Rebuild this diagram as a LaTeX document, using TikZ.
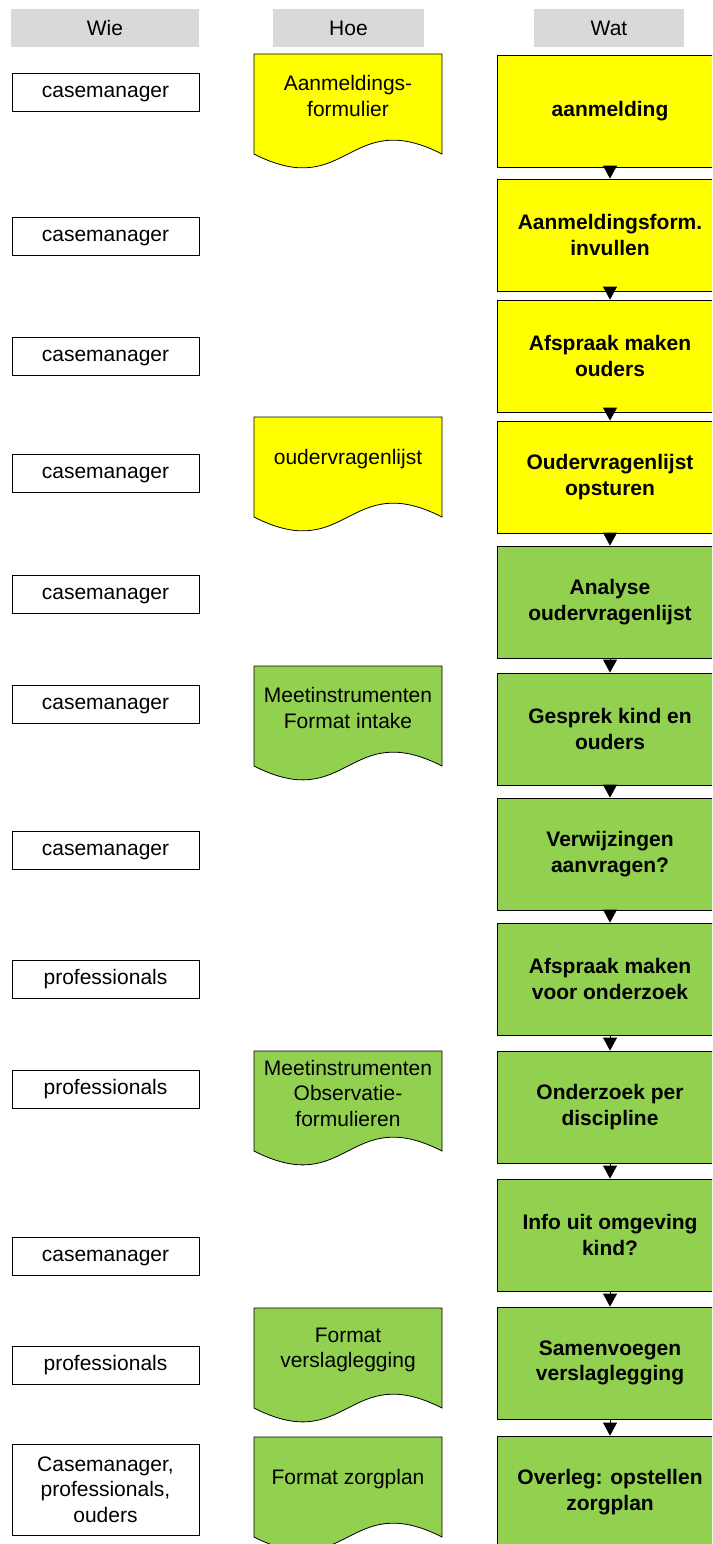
\documentclass[tikz,border=0pt]{standalone}
\usepackage{fontspec}
\setmainfont{Liberation Sans}
\usetikzlibrary{arrows.meta}
\definecolor{geel}{HTML}{FFFF00}
\definecolor{groen}{HTML}{92D050}
\definecolor{kopgrijs}{HTML}{D9D9D9}
\newcommand{\tekst}{\fontsize{21}{25.5}\selectfont}
\tikzstyle{kop} = [fill=kopgrijs, minimum height=38pt, inner sep=0pt, font=\tekst]
\tikzstyle{wie} = [draw, line width=0.8pt, fill=white, minimum width=187pt, minimum height=38pt, inner sep=0pt, align=center, font=\tekst]
\tikzstyle{wiekort} = [wie, text height=15pt, text depth=4.5pt]
\tikzstyle{wat} = [draw, line width=0.8pt, minimum width=226pt, minimum height=112pt, inner sep=0pt, align=center, font=\tekst\bfseries]
\tikzstyle{doc} = [draw, line width=0.8pt]
\tikzstyle{hoe} = [align=center, inner sep=0pt, font=\tekst]
\tikzstyle{stap} = [-{Triangle[width=14pt,length=13pt]}, line width=0.8pt]

\begin{document}
\begin{tikzpicture}[x=1pt, y=-1pt]
    \useasboundingbox (0,0) rectangle (712,1544);
    \clip (0,0) rectangle (712,1544);
    % kolomkoppen
    \node (kwie) [kop, minimum width=188pt] at (105,28) {Wie};
    \node (khoe) [kop, minimum width=151pt] at (348.5,28) {Hoe};
    \node (kwat) [kop, minimum width=150pt] at (609,28) {Wat};
    % wie
    \node (p1) [wiekort] at (105.5,92) {casemanager};
    \node (p2) [wiekort] at (105.5,236) {casemanager};
    \node (p3) [wiekort] at (105.5,356) {casemanager};
    \node (p4) [wiekort] at (105.5,473) {casemanager};
    \node (p5) [wiekort] at (105.5,594) {casemanager};
    \node (p6) [wiekort] at (105.5,704) {casemanager};
    \node (p7) [wiekort] at (105.5,850) {casemanager};
    \node (p8) [wiekort] at (105.5,979) {professionals};
    \node (p9) [wiekort] at (105.5,1089) {professionals};
    \node (p10) [wiekort] at (105.5,1256) {casemanager};
    \node (p11) [wiekort] at (105.5,1365) {professionals};
    \node (p12) [wie, minimum height=91pt] at (105.5,1489.5) {Casemanager,\\professionals,\\ouders};
    % hoe
    \filldraw[doc, fill=geel] (254,54) -- (442,54) -- (442,154) .. controls (348,106) and (348,202) .. (254,154) -- cycle;
    \node (d1) [hoe] at (348,96) {Aanmeldings-\\formulier};
    \filldraw[doc, fill=geel] (254,417) -- (442,417) -- (442,517) .. controls (348,469) and (348,565) .. (254,517) -- cycle;
    \node (d2) [hoe] at (348,459) {oudervragenlijst};
    \filldraw[doc, fill=groen] (254,666) -- (442,666) -- (442,766) .. controls (348,718) and (348,814) .. (254,766) -- cycle;
    \node (d3) [hoe] at (348,708) {Meetinstrumenten\\Format intake};
    \filldraw[doc, fill=groen] (254,1051) -- (442,1051) -- (442,1151) .. controls (348,1103) and (348,1199) .. (254,1151) -- cycle;
    \node (d4) [hoe] at (348,1093) {Meetinstrumenten\\Observatie-\\formulieren};
    \filldraw[doc, fill=groen] (254,1308) -- (442,1308) -- (442,1408) .. controls (348,1360) and (348,1456) .. (254,1408) -- cycle;
    \node (d5) [hoe] at (348,1350) {Format\\verslaglegging};
    \filldraw[doc, fill=groen] (254,1437) -- (442,1437) -- (442,1537) .. controls (348,1489) and (348,1585) .. (254,1537) -- cycle;
    \node (d6) [hoe] at (348,1479) {Format zorgplan};
    % wat
    \node (w1) [wat, fill=geel] at (610,111) {aanmelding};
    \node (w2) [wat, fill=geel] at (610,235) {Aanmeldingsform.\\invullen};
    \node (w3) [wat, fill=geel] at (610,356) {Afspraak maken\\ouders};
    \node (w4) [wat, fill=geel] at (610,477) {Oudervragenlijst\\opsturen};
    \node (w5) [wat, fill=groen] at (610,602) {Analyse\\oudervragenlijst};
    \node (w6) [wat, fill=groen] at (610,729) {Gesprek kind en\\ouders};
    \node (w7) [wat, fill=groen] at (610,854) {Verwijzingen\\aanvragen?};
    \node (w8) [wat, fill=groen] at (610,979) {Afspraak maken\\voor onderzoek};
    \node (w9) [wat, fill=groen] at (610,1107) {Onderzoek per\\discipline};
    \node (w10) [wat, fill=groen] at (610,1235) {Info uit omgeving\\kind?};
    \node (w11) [wat, fill=groen] at (610,1363) {Samenvoegen\\verslaglegging};
    \node (w12) [wat, fill=groen] at (610,1492) {Overleg: opstellen\\zorgplan};
    \draw[stap] (w1) -- (w2);
    \draw[stap] (w2) -- (w3);
    \draw[stap] (w3) -- (w4);
    \draw[stap] (w4) -- (w5);
    \draw[stap] (w5) -- (w6);
    \draw[stap] (w6) -- (w7);
    \draw[stap] (w7) -- (w8);
    \draw[stap] (w8) -- (w9);
    \draw[stap] (w9) -- (w10);
    \draw[stap] (w10) -- (w11);
    \draw[stap] (w11) -- (w12);
\end{tikzpicture}
\end{document}
